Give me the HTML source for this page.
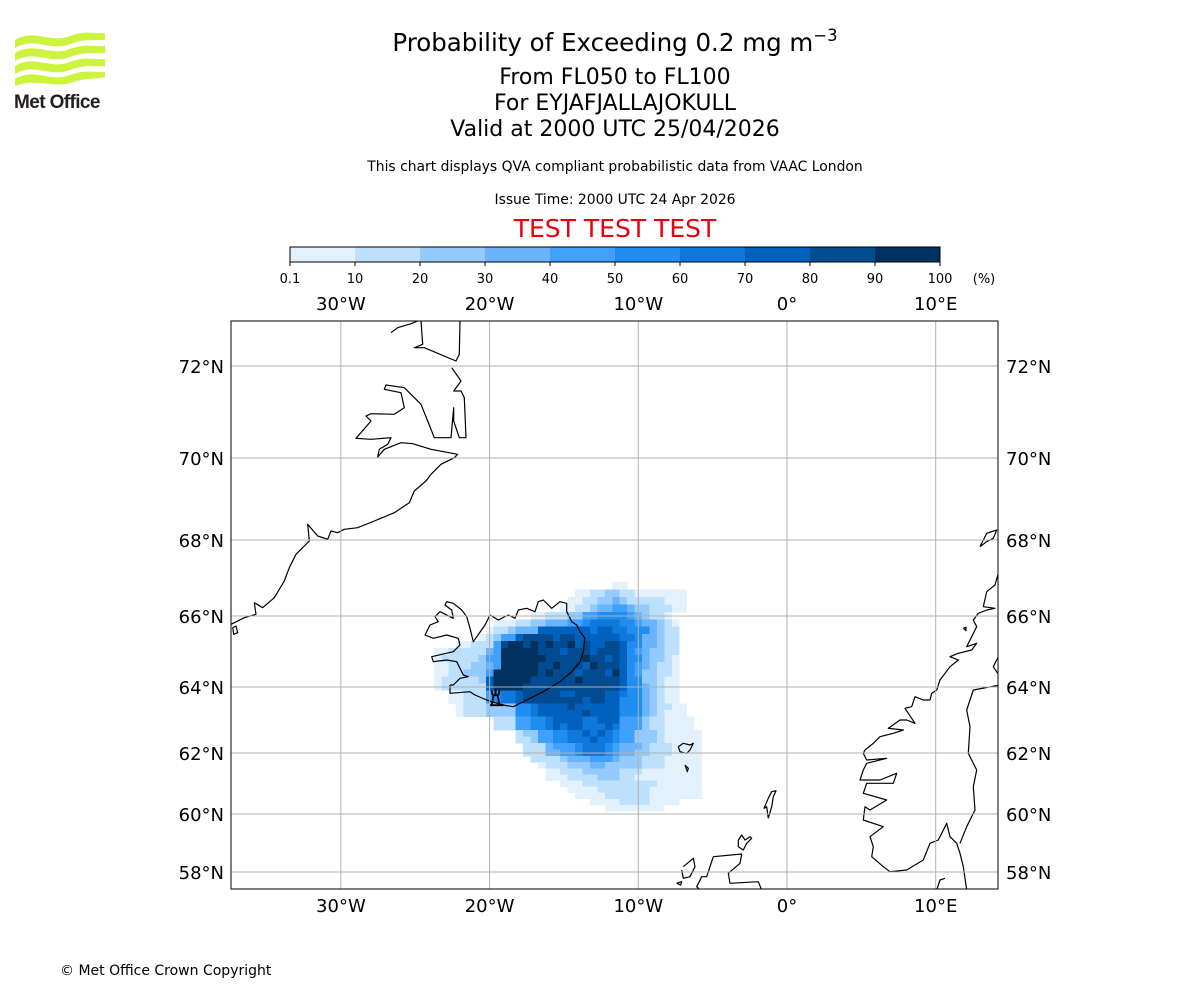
<!DOCTYPE html>
<html><head><meta charset="utf-8"><style>
body{margin:0;background:#fff;}
#wrap{position:relative;width:1200px;height:1000px;overflow:hidden;font-family:"Liberation Sans","DejaVu Sans",sans-serif;}
svg text{font-family:"DejaVu Sans","Liberation Sans",sans-serif;}
</style></head><body>
<div id="wrap">
<svg id="chart" width="1200" height="1000" viewBox="0 0 1200 1000">
<g>
<path d="M15,40 C35,28 50,44 70,36 C85,30 95,34 105,33 L105,40 C95,41 85,38 70,44 C50,52 35,36 15,48 Z" fill="#ccf43c"/>
<path d="M15,53 C35,41 50,57 70,49 C85,43 95,47 105,46 L105,53 C95,54 85,51 70,57 C50,65 35,49 15,61 Z" fill="#ccf43c"/>
<path d="M15,66 C35,54 50,70 70,62 C85,56 95,60 105,59 L105,66 C95,67 85,64 70,70 C50,78 35,62 15,74 Z" fill="#ccf43c"/>
<path d="M15,79 C35,67 50,83 70,75 C85,69 95,73 105,72 L105,77 C95,79 85,78 70,83 C55,88 35,78 15,86 Z" fill="#ccf43c"/>
<text x="14" y="108" font-size="19" font-weight="bold" fill="#231f20" letter-spacing="-0.6" style="font-family:'Liberation Sans',sans-serif">Met Office</text>
</g>
<g text-anchor="middle" fill="#000">
<text x="615" y="51" font-size="24.5">Probability of Exceeding 0.2 mg m<tspan dy="-10" font-size="16.5">−3</tspan></text>
<text x="615" y="84" font-size="22">From FL050 to FL100</text>
<text x="615" y="110" font-size="22">For EYJAFJALLAJOKULL</text>
<text x="615" y="136" font-size="22">Valid at 2000 UTC 25/04/2026</text>
<text x="615" y="171" font-size="13.9">This chart displays QVA compliant probabilistic data from VAAC London</text>
<text x="615" y="204" font-size="13.9">Issue Time: 2000 UTC 24 Apr 2026</text>
<text x="615" y="237" font-size="25" fill="#e8000b">TEST TEST TEST</text>
</g>
<g id="cbar"></g>
<g id="map"></g>
<text x="60" y="975" font-size="14">© Met Office Crown Copyright</text>
</svg>
</div>
<script>
const levelColors=["#e3f1fd","#bde0fd","#94cafd","#69b4fd","#3fa1fd","#1f8ef0","#0e78dc","#0062be","#024b90","#01325f"];
const cbarLabels=["0.1","10","20","30","40","50","60","70","80","90","100"];
const lonTicks=[-30,-20,-10,0,10];
const latTicks=[58,60,62,64,66,68,70,72];
const latTickY=[872,814,753,687,616,540,458,366];
const plumeLats=[66.8,66.6,66.4,66.2,66.0,65.8,65.6,65.4,65.2,65.0,64.8,64.6,64.4,64.2,64.0,63.8,63.6,63.4,63.2,63.0,62.8,62.6,62.4,62.2,62.0,61.8,61.6,61.4,61.2,61.0,60.8,60.6,60.4,60.2];
const plumeStart=[25,20,19,18,14,9,8,7,4,1,1,1,1,1,1,3,3,4,4,9,9,12,12,13,13,14,15,16,16,18,19,20,22,24];
const plumeLevels=[
"11","112233221111111","1122334322222111","11223445543322211",
"1122233556666543221","1112233444556777766544321","12234448888888788776664322",
"123558999989988888877644322","112225"+"9aa9a9a99a"+"8988998"+"66"+"44322",
"1122222"+"45"+"aaaaa"+"999899989998"+"65"+"43322",
"1222223"+"55"+"aaaaa"+"a99999a99898"+"66"+"43321",
"1122233"+"45"+"aaaaa"+"99a9998a9998"+"65"+"43221",
"1122333"+"5a"+"aaaaa"+"9a99989998a8"+"65"+"33221",
"1222223"+"8a"+"aaaa9"+"99999a999998"+"66"+"33211",
"1222222"+"8a"+"aaa99"+"999999999998"+"66"+"43211",
"11222"+"5677"+"89999988999988"+"766"+"43211",
"11222"+"5677"+"89999999989988"+"666"+"43211",
"12223333"+"667"+"88889888888"+"666"+"432211",
"12223333"+"667"+"88888898888"+"666"+"432111",
"222"+"5566"+"7888877888"+"555"+"3221111",
"222"+"5566"+"7878877787"+"555"+"3221111",
"233"+"5566"+"778787"+"655"+"333"+"211111",
"223"+"5566"+"777877"+"655"+"333"+"211111",
"222"+"4555"+"67776"+"544"+"432221111",
"222"+"4455"+"67776"+"544"+"332221111",
"2222"+"3444"+"5554"+"333"+"22211111",
"1222"+"333443"+"3333"+"22211111",
"1122"+"2333332"+"2211111111",
"1112"+"2223332"+"2111111111",
"1112222222222111111","111122222221111111","11112222221111111","111122221111","11111111"];
const colLon0=-24.0, colStep=0.5, latStep=0.2;

const NS="http://www.w3.org/2000/svg";
function mk(tag,attrs,parent){const e=document.createElementNS(NS,tag);for(const k in attrs)e.setAttribute(k,attrs[k]);parent.appendChild(e);return e;}
const MAP={x0:231,y0:321,x1:998,y1:889};
function xLon(lon){return 787+lon*14.87;}
function yLat(lat){
  for(let i=0;i<latTicks.length-1;i++){
    if(lat<=latTicks[i+1]||i===latTicks.length-2){
      const a=latTicks[i],b=latTicks[i+1];
      return latTickY[i]+(lat-a)/(b-a)*(latTickY[i+1]-latTickY[i]);
    }
  }
}
const cb=document.getElementById('cbar');
const cbX=290,cbW=650,cbY=247,cbH=15,segW=cbW/levelColors.length;
levelColors.forEach((c,i)=>{
  const r=mk('rect',{x:cbX+i*segW,y:cbY,width:segW+0.5,height:cbH,fill:c},cb);
  
  
});
mk('rect',{x:cbX,y:cbY,width:cbW,height:cbH,fill:'none',stroke:'#000','stroke-width':1},cb);
cbarLabels.forEach((t,i)=>{
  const x=cbX+i*segW;
  mk('line',{x1:x,y1:cbY+cbH,x2:x,y2:cbY+cbH+4,stroke:'#000'},cb);
  const tx=mk('text',{x:x,y:283,'font-size':13,'text-anchor':'middle'},cb);tx.textContent=t;
  
  
});
const pct=mk('text',{x:984,y:283,'font-size':13,'text-anchor':'middle'},cb);pct.textContent='(%)';



const map=document.getElementById('map');
const cp=mk('clipPath',{id:'mclip'},map);
mk('rect',{x:MAP.x0,y:MAP.y0,width:MAP.x1-MAP.x0,height:MAP.y1-MAP.y0},cp);
const inner=mk('g',{'clip-path':'url(#mclip)'},map);
const plume=mk('g',{'shape-rendering':'crispEdges'},inner);


plumeLats.forEach((lat,r)=>{
  const s=plumeLevels[r];
  const yt=yLat(lat+latStep/2),yb=yLat(lat-latStep/2);
  for(let k=0;k<s.length;k++){
    const ch=s[k];if(ch==='0')continue;
    const lv=ch==='a'?10:parseInt(ch,10);
    const lon=colLon0+(plumeStart[r]+k)*colStep;
    const xl=xLon(lon-colStep/2),xr=xLon(lon+colStep/2);
    const c=mk('rect',{x:xl,y:yt,width:xr-xl+0.4,height:yb-yt+0.4,fill:levelColors[lv-1]},plume);
    
    
  }
});
const coasts=[
 [231,321,[[480,35],[500,20],[540,8],[560,0]]],
 [231,321,[[570,0],[575,70],[550,80],[580,80],[675,120],[685,100],[687,0]]],
 [231,321,[[662,140],[690,180],[668,210],[690,210],[700,230],[705,350],[685,350],[668,300],[668,260],[660,350],[610,350],[590,300],[570,250],[520,200],[465,192],[460,205],[510,215],[520,260],[490,280],[420,278],[405,285],[420,300],[375,352],[420,355],[480,350],[470,370],[445,385],[440,408],[460,385],[510,365],[545,368],[600,385],[680,400],[670,410],[630,430],[600,460],[585,480],[550,510],[535,545],[490,575],[430,600],[380,620],[340,625],[320,635],[300,630],[290,655],[260,645],[230,610],[235,660],[195,700],[175,740],[160,780],[130,830],[95,860],[70,845],[75,880],[40,890],[10,905],[0,910]]],
 [231,321,[[5,920],[15,915],[20,935],[8,940],[5,920]]],
 [420,585,[[90,300],[90,325],[150,320],[165,330],[200,345],[215,350],[250,360],[280,365],[320,345],[370,320],[420,290],[455,260],[480,230],[490,200],[495,160],[480,140],[470,120],[455,110],[440,80],[440,55],[420,50],[395,70],[370,45],[355,50],[345,80],[320,70],[295,75],[285,100],[265,90],[235,105],[210,90],[195,120],[160,170],[150,130],[140,95],[125,75],[100,55],[80,50],[75,60],[95,75],[100,100],[60,80],[45,95],[55,110],[30,120],[15,150],[40,160],[80,150],[115,160],[120,180],[100,200],[35,215],[40,230],[80,225],[110,230],[120,250],[130,270],[145,275],[120,280],[100,300],[90,300]]],
 [640,730,[[115,50],[130,40],[150,45],[160,40],[150,60],[140,70],[120,65],[115,50]]],
 [640,730,[[135,105],[145,115],[142,125],[135,105]]],
 [640,730,[[385,265],[380,230],[372,235],[385,205],[395,185],[408,182],[400,200],[395,230],[385,265]]],
 [640,730,[[295,330],[305,315],[315,330],[330,320],[335,325],[320,340],[310,360],[295,350],[295,330]]],
 [640,730,[[220,380],[305,372],[300,400],[265,430],[270,460],[355,455],[365,480]]],
 [640,730,[[220,380],[210,410],[200,440],[185,440],[170,470],[180,480]]],
 [640,730,[[130,410],[160,385],[165,410],[150,440],[130,445],[125,420]]],
 [640,730,[[110,460],[125,455],[122,465],[110,460]]],
 [840,520,[[420,80],[440,40],[470,30],[460,55],[440,65],[420,80]]],
 [840,520,[[475,160],[465,195],[440,215],[430,260],[465,265],[440,270],[415,280],[400,300],[410,320],[395,350],[380,380],[410,370],[395,390],[355,400],[330,410],[355,420],[330,440],[300,480],[290,510],[275,520],[270,540],[250,540],[225,530],[215,560],[195,565],[225,610],[200,600],[180,600],[145,625],[190,630],[160,640],[120,650],[100,670],[75,690],[70,700],[80,720],[140,715],[80,730],[70,750],[60,780],[120,780],[170,760],[160,790],[80,790],[70,820],[140,840],[90,870],[75,860],[70,900],[130,920],[90,950],[100,980],[95,1010],[130,1040],[150,1055],[200,1050],[250,1020],[270,970],[295,960],[320,910],[330,950],[350,970],[360,1000],[370,1040],[380,1110]]],
 [840,520,[[480,495],[400,510],[380,570],[390,620],[385,700],[410,750],[400,800],[405,870],[380,920],[360,970]]],
 [840,520,[[480,400],[460,440],[480,470]]],
 [840,520,[[370,325],[378,322],[378,332],[370,325]]],
 [840,520,[[290,1110],[300,1080],[315,1075]]]
];
const cg=mk('g',{fill:'none',stroke:'#000','stroke-width':1.2,'stroke-linejoin':'round'},inner);


coasts.forEach(([ox,oy,pts])=>{
  mk('path',{d:'M'+pts.map(p=>(ox+p[0]/3).toFixed(1)+','+(oy+p[1]/3).toFixed(1)).join(' L')},cg);
});
const vx=xLon(-19.6),vy=yLat(63.63);
const vm=mk('path',{d:`M${vx-4},${vy+6} L${vx-2},${vy-4} L${vx+2},${vy-4} L${vx+4},${vy+6} Z M${vx-4},${vy-9} L${vx-3},${vy-4} M${vx},${vy-10} L${vx},${vy-4} M${vx+4},${vy-9} L${vx+3},${vy-4} M${vx-6},${vy+6} L${vx+8},${vy+6}`,fill:'none',stroke:'#000','stroke-width':1.8},inner);


const gg=mk('g',{stroke:'#b0b0b0','stroke-width':1},inner);


lonTicks.forEach(l=>{const x=xLon(l);mk('line',{x1:x,y1:MAP.y0,x2:x,y2:MAP.y1},gg);});
latTicks.forEach(l=>{const y=yLat(l);mk('line',{x1:MAP.x0,y1:y,x2:MAP.x1,y2:y},gg);});
mk('rect',{x:MAP.x0,y:MAP.y0,width:MAP.x1-MAP.x0,height:MAP.y1-MAP.y0,fill:'none',stroke:'#000','stroke-width':1},map);
function lonLabel(l){return l===0?'0°':Math.abs(l)+'°'+(l<0?'W':'E');}
lonTicks.forEach(l=>{
  [310,912].forEach(y=>{
    const t=mk('text',{x:xLon(l),y:y,'font-size':18,'text-anchor':'middle'},map);t.textContent=lonLabel(l);
    
    
  });
});
latTicks.forEach(l=>{
  const y=yLat(l)+7;
  const a=mk('text',{x:224,y:y,'font-size':18,'text-anchor':'end'},map);a.textContent=l+'°N';
  
  
  const b=mk('text',{x:1006,y:y,'font-size':18,'text-anchor':'start'},map);b.textContent=l+'°N';
  
  
});
</script>
</body></html>
